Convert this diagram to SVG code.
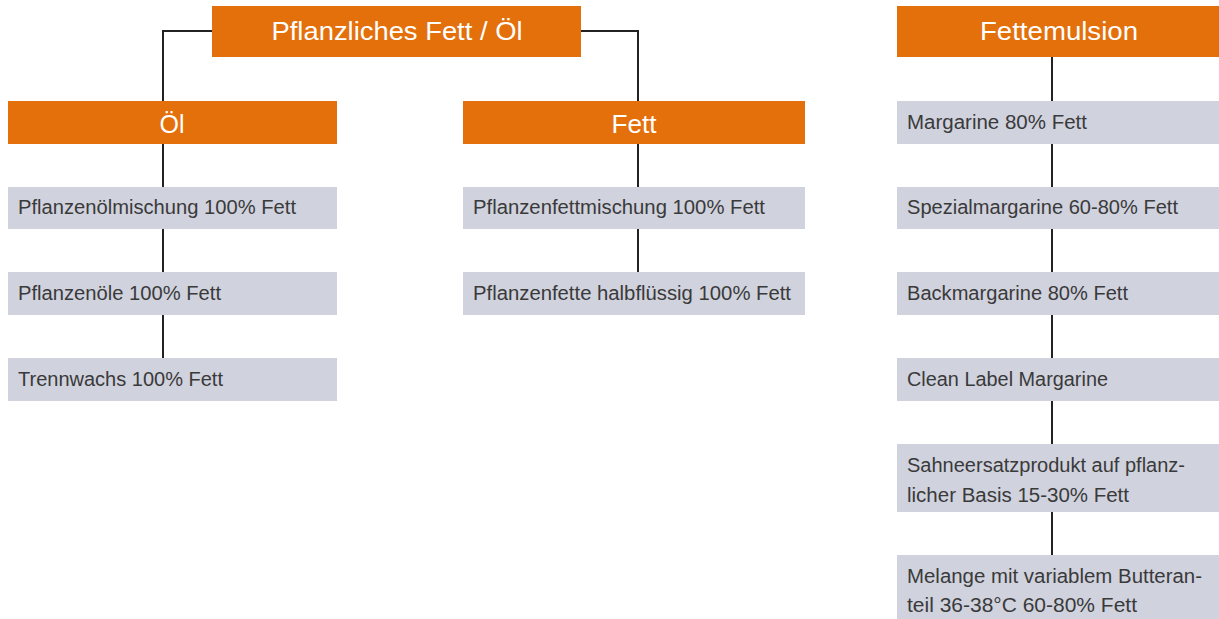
<svg xmlns="http://www.w3.org/2000/svg" width="1219" height="619" viewBox="0 0 1219 619">
<style>
.o{fill:#e3700b}
.g{fill:#d0d2de}
.ot{font-family:"Liberation Sans",Arial,sans-serif;font-size:25px;fill:#fff;text-anchor:middle}
.gt{font-family:"Liberation Sans",Arial,sans-serif;font-size:20px;fill:#3a3a3a}
.c{fill:none;stroke:#222;stroke-width:2}
</style>
<rect width="1219" height="619" fill="#fff"/>
<g id="connectors">
<path class="c" d="M212,31H163V101"/>
<path class="c" d="M581,31H638V101"/>
<path class="c" d="M163,144V187M163,229V272M163,315V358"/>
<path class="c" d="M638,144V187M638,229V272"/>
<path class="c" d="M1052,57V101M1052,144V187M1052,229V272M1052,315V358M1052,401V444M1052,512V555"/>
</g>
<g id="root"><rect class="o" x="212" y="6" width="369" height="51"/><text class="ot" x="397" y="40" textLength="251" lengthAdjust="spacingAndGlyphs">Pflanzliches Fett / Öl</text></g>
<g id="fettemulsion"><rect class="o" x="897" y="6" width="322" height="51"/><text class="ot" x="1059" y="40" textLength="158" lengthAdjust="spacingAndGlyphs">Fettemulsion</text></g>
<g id="oel"><rect class="o" x="8" y="101" width="329" height="43"/><text class="ot" x="172" y="133">Öl</text></g>
<g id="fett"><rect class="o" x="463" y="101" width="342" height="43"/><text class="ot" x="634" y="133" textLength="45" lengthAdjust="spacingAndGlyphs">Fett</text></g>
<g id="n1"><rect class="g" x="8" y="187" width="329" height="42"/><text class="gt" x="18" y="214" textLength="278" lengthAdjust="spacingAndGlyphs">Pflanzenölmischung 100% Fett</text></g>
<g id="n2"><rect class="g" x="8" y="272" width="329" height="43"/><text class="gt" x="18" y="300" textLength="203" lengthAdjust="spacingAndGlyphs">Pflanzenöle 100% Fett</text></g>
<g id="n3"><rect class="g" x="8" y="358" width="329" height="43"/><text class="gt" x="18" y="386" textLength="205" lengthAdjust="spacingAndGlyphs">Trennwachs 100% Fett</text></g>
<g id="n4"><rect class="g" x="463" y="187" width="342" height="42"/><text class="gt" x="473" y="214" textLength="292" lengthAdjust="spacingAndGlyphs">Pflanzenfettmischung 100% Fett</text></g>
<g id="n5"><rect class="g" x="463" y="272" width="342" height="43"/><text class="gt" x="473" y="300" textLength="318" lengthAdjust="spacingAndGlyphs">Pflanzenfette halbflüssig 100% Fett</text></g>
<g id="n6"><rect class="g" x="897" y="101" width="322" height="43"/><text class="gt" x="907" y="129" textLength="180" lengthAdjust="spacingAndGlyphs">Margarine 80% Fett</text></g>
<g id="n7"><rect class="g" x="897" y="187" width="322" height="42"/><text class="gt" x="907" y="214" textLength="271" lengthAdjust="spacingAndGlyphs">Spezialmargarine 60-80% Fett</text></g>
<g id="n8"><rect class="g" x="897" y="272" width="322" height="43"/><text class="gt" x="907" y="300" textLength="221" lengthAdjust="spacingAndGlyphs">Backmargarine 80% Fett</text></g>
<g id="n9"><rect class="g" x="897" y="358" width="322" height="43"/><text class="gt" x="907" y="386" textLength="201" lengthAdjust="spacingAndGlyphs">Clean Label Margarine</text></g>
<g id="n10"><rect class="g" x="897" y="444" width="322" height="68"/><text class="gt" x="907" y="472" textLength="278" lengthAdjust="spacingAndGlyphs">Sahneersatzprodukt auf pflanz-</text><text class="gt" x="907" y="502" textLength="222" lengthAdjust="spacingAndGlyphs">licher Basis 15-30% Fett</text></g>
<g id="n11"><rect class="g" x="897" y="555" width="322" height="64"/><text class="gt" x="907" y="583" textLength="295" lengthAdjust="spacingAndGlyphs">Melange mit variablem Butteran-</text><text class="gt" x="907" y="612" textLength="230" lengthAdjust="spacingAndGlyphs">teil 36-38°C 60-80% Fett</text></g>
</svg>
